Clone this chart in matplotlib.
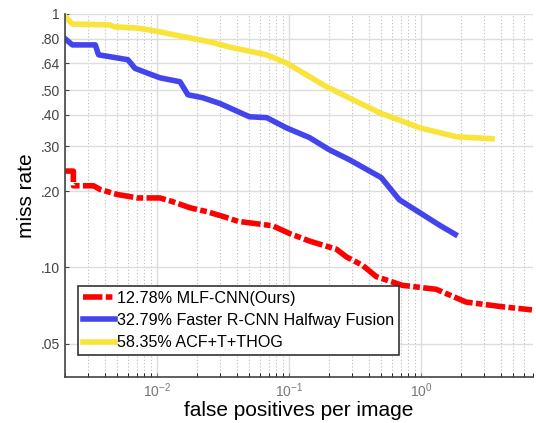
import numpy as np
import matplotlib.pyplot as plt
from matplotlib.ticker import FixedLocator, NullFormatter, LogLocator

# data
red_x = [0.002, 0.00232, 0.00232, 0.0033, 0.0037, 0.005, 0.0071, 0.0105, 0.013, 0.0177,
         0.0238, 0.0315, 0.041, 0.05, 0.075, 0.101, 0.143, 0.228, 0.272, 0.359, 0.457,
         0.553, 0.719, 1.30, 1.94, 2.19, 4.09, 6.9]
red_y = [0.24, 0.24, 0.21, 0.21, 0.203, 0.194, 0.188, 0.188, 0.182, 0.172,
         0.166, 0.159, 0.152, 0.150, 0.146, 0.136, 0.127, 0.118, 0.110, 0.102, 0.092,
         0.089, 0.085, 0.082, 0.075, 0.073, 0.070, 0.068]

blue_x = [0.002, 0.00228, 0.0034, 0.0036, 0.006, 0.0068, 0.0084, 0.0105, 0.0149, 0.0171,
          0.0222, 0.03, 0.05, 0.0676, 0.0957, 0.143, 0.202, 0.286, 0.499, 0.682,
          0.966, 1.37, 1.81]
blue_y = [0.80, 0.755, 0.755, 0.69, 0.66, 0.61, 0.585, 0.56, 0.54, 0.48,
          0.467, 0.443, 0.393, 0.39, 0.355, 0.325, 0.291, 0.266, 0.226, 0.185,
          0.165, 0.147, 0.135]

yel_x = [0.002, 0.00228, 0.0044, 0.0047, 0.0071, 0.0105, 0.013, 0.0187, 0.0251, 0.0356,
         0.0676, 0.0957, 0.192, 0.34, 0.482, 0.985, 1.84, 3.44]
yel_y = [0.98, 0.913, 0.905, 0.89, 0.88, 0.85, 0.83, 0.80, 0.776, 0.74,
         0.69, 0.64, 0.516, 0.446, 0.408, 0.355, 0.328, 0.322]

labels = ['12.78% MLF-CNN(Ours)', '32.79% Faster R-CNN Halfway Fusion', '58.35% ACF+T+THOG']
y_ticks = [0.05, 0.10, 0.20, 0.30, 0.40, 0.50, 0.64, 0.80, 1.0]
y_ticklabels = ['.05', '.10', '.20', '.30', '.40', '.50', '.64', '.80', '1']

plt.rcParams['font.family'] = ['Liberation Sans', 'DejaVu Sans']

fig = plt.figure(figsize=(5.36, 4.23), dpi=100)
ax = fig.add_axes([0.121, 0.109, 0.873, 0.858])

ax.plot(red_x, red_y, color='#ff0000', lw=4, dashes=(3.5, 0.6, 1.2, 0.6), label=labels[0])
ax.plot(blue_x, blue_y, color='#4444ee', lw=4, label=labels[1])
ax.plot(yel_x, yel_y, color='#f8e43a', lw=4, label=labels[2])

ax.set_xscale('log')
ax.set_yscale('log')
ax.set_xlim(0.002, 7)
ax.set_ylim(0.037, 1)

ax.yaxis.set_major_locator(FixedLocator(y_ticks))
ax.set_yticklabels(y_ticklabels)
ax.yaxis.set_minor_formatter(NullFormatter())
ax.yaxis.set_minor_locator(FixedLocator([]))
ax.xaxis.set_major_locator(LogLocator(base=10))
ax.xaxis.set_minor_locator(LogLocator(base=10, subs=np.arange(2, 10)))
ax.xaxis.set_minor_formatter(NullFormatter())

ax.grid(True, which='major', color='#dddddd', lw=1, ls='-')
ax.grid(True, which='minor', axis='x', color='#bbbbbb', lw=0.8, ls=(0, (1, 2)))
ax.set_axisbelow(True)

ax.tick_params(which='both', direction='in', length=3, labelsize=10)
ax.tick_params(axis='y', colors='#444444')
ax.tick_params(axis='x', colors='#777777', pad=3)
for s in ['top', 'right']:
    ax.spines[s].set_visible(False)
for s in ['left', 'bottom']:
    ax.spines[s].set_color('#444444')
    ax.spines[s].set_linewidth(1.2)

ax.set_xlabel('false positives per image', fontsize=15, labelpad=1)
ax.set_ylabel('miss rate', fontsize=15, labelpad=3)

leg = ax.legend(loc='lower left', bbox_to_anchor=(0.028, 0.06), fontsize=11.6,
                handlelength=2.0, handletextpad=0.15, borderpad=0.3, labelspacing=0.45,
                fancybox=False, framealpha=1, borderaxespad=0)
leg.get_frame().set_edgecolor('#333333')
leg.get_frame().set_linewidth(1.2)

fig.savefig('out.png', dpi=100)
